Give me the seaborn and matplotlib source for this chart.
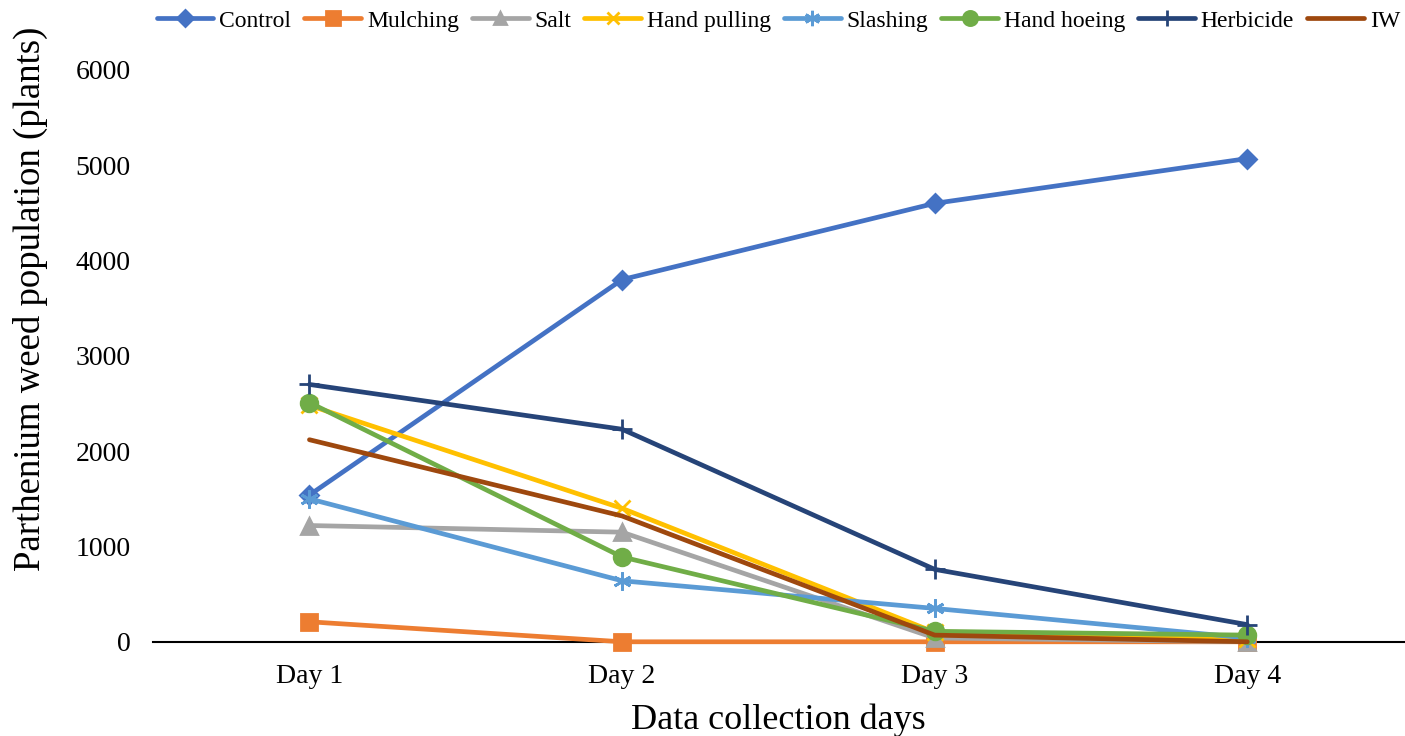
import pandas as pd
import matplotlib
matplotlib.use('Agg')
from matplotlib import pyplot as plt
import seaborn as sns

# Parthenium weed counts per treatment over four collection days

days = ['Day 1', 'Day 2', 'Day 3', 'Day 4']
control = [1540, 3800, 4600, 5070]
mulching = [210, 0, 0, 0]
salt = [1220, 1150, 40, 0]
hand_pulling = [2480, 1400, 100, 30]
slashing = [1500, 640, 350, 40]
hand_hoeing = [2510, 890, 110, 70]
herbicide = [2700, 2230, 760, 180]
iw = [2120, 1320, 70, 0]

series = {
    'Control': control,
    'Mulching': mulching,
    'Salt': salt,
    'Hand pulling': hand_pulling,
    'Slashing': slashing,
    'Hand hoeing': hand_hoeing,
    'Herbicide': herbicide,
    'IW': iw,
}
colors = ['#4472C4', '#ED7D31', '#A5A5A5', '#FFC000', '#5B9BD5', '#70AD47', '#264478', '#9E480E']
markers = ['D', 's', '^', 'x', (6, 2, 0), 'o', '+', None]
msizes = [9, 12, 11, 11, 13, 12, 14, 0]

rows = []
for name, vals in series.items():
    for d, v in zip(days, vals):
        rows.append({'Treatment': name, 'Day': d, 'Plants': v})
df = pd.DataFrame(rows)

sns.set_style('white')
plt.rcParams['font.family'] = ['Liberation Serif', 'DejaVu Serif']
plt.rcParams['text.color'] = 'black'
plt.rcParams['axes.labelcolor'] = 'black'
plt.rcParams['xtick.color'] = 'black'
plt.rcParams['ytick.color'] = 'black'

fig, ax = plt.subplots(figsize=(14.05, 7.36), dpi=100)
fig.subplots_adjust(left=0.109, right=0.999, top=0.905, bottom=0.128)

for (name, _), c, m, ms in zip(series.items(), colors, markers, msizes):
    sub = df[df['Treatment'] == name]
    kw = dict(marker=m, markersize=ms, markeredgecolor=c, markeredgewidth=2) if m is not None else {}
    sns.lineplot(data=sub, x='Day', y='Plants', color=c, linewidth=3.4,
                 label=name, ax=ax, sort=False, **kw)

ax.set_xlim(-0.5, 3.5)
ax.set_ylim(0, 6000)
ax.set_yticks(range(0, 6001, 1000))
ax.set_ylabel('Parthenium weed population (plants)', fontsize=26.5)
ax.yaxis.set_label_coords(-0.084, 0.6)
ax.set_xlabel('Data collection days', fontsize=26)
ax.xaxis.set_label_coords(0.5, -0.108)
ax.tick_params(axis='y', labelsize=20, length=0, pad=16)
ax.tick_params(axis='x', labelsize=20, length=0, pad=16)
for s in ['top', 'right', 'left']:
    ax.spines[s].set_visible(False)
ax.spines['bottom'].set_color('black')
ax.spines['bottom'].set_linewidth(1.5)
ax.spines['bottom'].set_zorder(0)
for ln in ax.lines:
    ln.set_clip_on(False)

ax.legend(loc='upper center', bbox_to_anchor=(0.5, 1.121), ncol=8, frameon=False,
          fontsize=17, handlelength=2.4, columnspacing=0.55, handletextpad=0.25,
          borderaxespad=0, markerscale=0.85)

fig.savefig('out.png', dpi=100)
